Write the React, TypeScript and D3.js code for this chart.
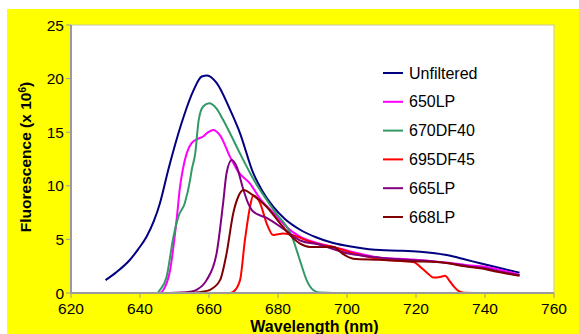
import React from "react";
import * as d3 from "d3";

const W = 579;
const H = 334;

const seriesNames = ["Unfiltered", "650LP", "670DF40", "695DF45", "665LP", "668LP"];
const seriesColors = ["#000080", "#FF00FF", "#339966", "#FF0000", "#800080", "#800000"];

const unfiltered: [number, number][] = [
  [630, 1.2], [633, 1.9], [637.1, 3.1], [639.5, 4.1], [641.9, 5.25], [644, 6.7], [645.8, 8.4],
  [648.2, 11.5], [649.7, 13.3], [652.6, 16.4], [655.5, 18.9], [657.9, 20.2], [659.5, 20.3],
  [662.2, 19.6], [666.1, 17.1], [669, 14.9], [672.8, 11.2], [675.5, 9.5], [678.6, 8.05], [682, 6.9],
  [686.4, 5.9], [691, 5.2], [696, 4.66], [702, 4.3], [709.6, 4.0], [715, 3.95], [721.2, 3.85],
  [728.9, 3.54], [734, 3.15], [738.6, 2.77], [744, 2.35], [750, 1.9],
];

const lp650: [number, number][] = [
  [630, 0], [640, 0], [645.8, 0], [646.8, 0.3], [648.7, 2.1], [650.6, 6.8], [651.6, 9.9], [652.4, 11.5],
  [653.5, 13.0], [655, 14.0], [656.9, 14.4], [658.3, 14.6], [659.8, 15.0], [661.2, 15.2], [663.2, 14.7],
  [666.1, 12.7], [668.5, 11.3], [671.9, 10.2], [675, 8.7], [678.6, 7.5], [682, 6.3], [686.4, 5.25],
  [691, 4.7], [696, 4.3], [702, 3.8], [709.6, 3.3], [715, 3.2], [720, 3.1], [725, 2.95], [730, 2.8],
  [735, 2.6], [740, 2.45], [745, 2.1], [750, 1.7],
];

const df670: [number, number][] = [
  [630, 0], [640, 0], [645, 0], [645.8, 0.3], [647.7, 1.5], [649.7, 5.25], [651.1, 7.1], [653, 8.4],
  [654.5, 10.5], [655, 11.5], [656, 13.0], [657, 16.1], [658.3, 17.4], [660, 17.7], [662.2, 17.2],
  [664, 16.2], [666.1, 14.9], [669, 13.0], [671.9, 11.2], [674, 10.0], [676.7, 8.7], [679.5, 7.4],
  [682.5, 6.2], [684, 5.3], [685.4, 4.0], [687, 2.4], [688.3, 1.2], [690.2, 0.28], [692, 0.05],
  [700, 0], [720, 0], [750, 0],
];

const df695: [number, number][] = [
  [630, 0], [650, 0], [666, 0], [667, 0.1], [669, 1.2], [670.4, 4.9], [671.9, 8.05], [672.8, 9.1],
  [674.8, 8.4], [676.7, 6.5], [678.6, 5.4], [681.5, 5.55], [684.4, 5.4], [687.5, 5.0], [691.2, 4.6],
  [696, 4.3], [701.8, 3.7], [705, 3.45], [709.6, 3.15], [715, 3.0], [719.2, 2.9], [721.7, 2.3],
  [723.5, 1.8], [725, 1.45], [727, 1.5], [728.4, 1.6], [729.9, 1.05], [731, 0.6], [732.3, 0.2],
  [734, 0.03], [740, 0], [750, 0],
];

const lp665: [number, number][] = [
  [630, 0], [645, 0], [652, 0.05], [654.5, 0.12], [656.4, 0.3], [659.3, 1.2], [662.2, 3.7],
  [664.1, 8.4], [665.1, 11.2], [666.6, 12.4], [668, 11.8], [670, 9.6], [671.3, 8.4], [672.8, 7.6],
  [676.7, 7.0], [681.5, 6.0], [686.4, 4.9], [692.2, 4.5], [700, 3.7], [705, 3.45], [709.6, 3.3],
  [715, 3.15], [720, 3.05], [725, 2.95], [730, 2.75], [735, 2.5], [740, 2.3], [745, 1.95], [750, 1.65],
];

const lp668: [number, number][] = [
  [630, 0], [650, 0], [656, 0.05], [658.5, 0.15], [660.3, 0.3], [663.2, 1.2], [665.1, 3.7],
  [667, 7.4], [668.5, 9.0], [670, 9.6], [672.8, 9.1], [676.7, 8.05], [680.6, 6.5], [683.5, 5.4],
  [686.4, 4.6], [689.3, 4.3], [696, 4.3], [699, 3.6], [701.8, 3.2], [709.6, 3.1], [715, 3.0],
  [720, 2.95], [728.9, 2.8], [733, 2.55], [738.6, 2.3], [744, 1.95], [750, 1.6],
];

const allSeries = [unfiltered, lp650, df670, df695, lp665, lp668];

const xTicks = [620, 640, 660, 680, 700, 720, 740, 760];
const yTicks = [0, 5, 10, 15, 20, 25];

const left = 71;
const right = 554;
const top = 25;
const bottom = 293;

export default function App() {
  const x = d3.scaleLinear().domain([620, 760]).range([left, right]);
  const y = d3.scaleLinear().domain([0, 25]).range([bottom, top]);
  const line = d3
    .line<[number, number]>()
    .x((d) => x(d[0]))
    .y((d) => y(d[1]))
    .curve(d3.curveMonotoneX);

  const font = "Arial, 'Liberation Sans', Helvetica, sans-serif";
  const axisColor = "#9a9a9a";

  return (
    <svg
      width={W}
      height={H}
      style={{ position: "absolute", left: 0, top: 0 }}
      fontFamily={font}
    >
      <rect x={0} y={0} width={W} height={H} fill="#ffffff" />
      <rect x={7} y={9} width={W - 7} height={H - 9} fill="#FFFF00" />
      <rect x={left} y={top} width={right - left} height={bottom - top} fill="#ffffff" stroke="#c8c8a0" strokeWidth={1} />

      {allSeries.map((s, i) => (
        <path
          key={seriesNames[i]}
          d={line(s) ?? ""}
          fill="none"
          stroke={seriesColors[i]}
          strokeWidth={2}
          strokeLinejoin="round"
        />
      ))}

      {/* axes */}
      <line x1={left} x2={right} y1={bottom} y2={bottom} stroke={axisColor} strokeWidth={2} />
      <line x1={left} x2={left} y1={top} y2={bottom} stroke={axisColor} strokeWidth={2} />
      {xTicks.map((t) => (
        <g key={"x" + t}>
          <line x1={x(t)} x2={x(t)} y1={bottom} y2={bottom + 5} stroke={axisColor} strokeWidth={1} />
          <text x={x(t)} y={bottom + 21} textAnchor="middle" fontSize={15.5} fill="#000">
            {t}
          </text>
        </g>
      ))}
      {yTicks.map((t) => (
        <g key={"y" + t}>
          <line x1={left - 5} x2={left} y1={y(t)} y2={y(t)} stroke={axisColor} strokeWidth={1} />
          <text x={left - 7} y={y(t) + 5.5} textAnchor="end" fontSize={15.5} fill="#000">
            {t}
          </text>
        </g>
      ))}

      <text
        x={(left + right) / 2 + 2}
        y={332}
        textAnchor="middle"
        fontSize={16}
        fontWeight="bold"
        fill="#000"
      >
        Wavelength (nm)
      </text>
      <text
        transform={`translate(31, ${(top + bottom) / 2 - 2}) rotate(-90)`}
        textAnchor="middle"
        fontSize={15.5}
        fontWeight="bold"
        fill="#000"
      >
        Fluorescence (x 10
        <tspan baselineShift="super" fontSize={10}>6</tspan>
        )
      </text>

      {/* legend */}
      {seriesNames.map((n, i) => (
        <g key={"lg" + n} transform={`translate(383, ${73 + i * 28.8})`}>
          <line x1={0} x2={20} y1={0} y2={0} stroke={seriesColors[i]} strokeWidth={2} />
          <text x={26} y={5.5} fontSize={16} fill="#000">
            {n}
          </text>
        </g>
      ))}
    </svg>
  );
}
